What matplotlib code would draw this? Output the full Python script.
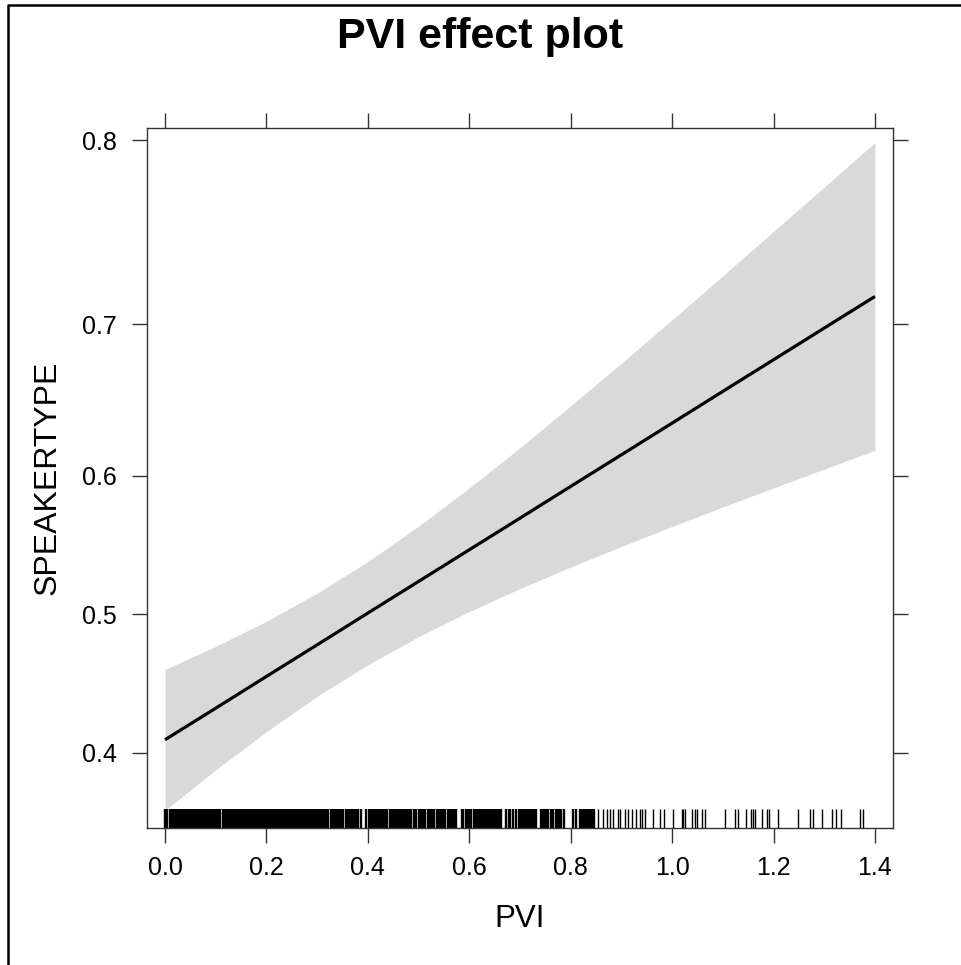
import numpy as np
import matplotlib
matplotlib.use('Agg')
import matplotlib.pyplot as plt
from matplotlib.lines import Line2D
from matplotlib.ticker import NullLocator
from matplotlib import rcParams

rcParams['font.family'] = 'sans-serif'
rcParams['font.sans-serif'] = ['Liberation Sans', 'DejaVu Sans']
rcParams['font.size'] = 18

## effect estimates (probability scale)
pvi = [0.0, 0.1, 0.2, 0.3, 0.4, 0.5, 0.6, 0.7, 0.8, 0.9, 1.0, 1.1, 1.2, 1.3, 1.4]
fit = [0.4093, 0.4318, 0.4547, 0.4777, 0.5009, 0.5240, 0.5470, 0.5698,
       0.5924, 0.6145, 0.6362, 0.6574, 0.6779, 0.6978, 0.7169]
upper = [0.4598, 0.4766, 0.4949, 0.5154, 0.5385, 0.5640, 0.5913, 0.6194,
         0.6478, 0.6758, 0.7029, 0.7290, 0.7539, 0.7771, 0.7989]
lower = [0.3606, 0.3882, 0.4150, 0.4403, 0.4632, 0.4836, 0.5020, 0.5188,
         0.5345, 0.5494, 0.5639, 0.5778, 0.5913, 0.6046, 0.6176]

## rug of observed PVI values (in thousandths)
rug_dense = [
    0, 3, 9, 12, 15, 18, 21, 24, 27, 30, 33, 36, 39, 42, 45, 48, 51, 54, 57,
    60, 63, 66, 69, 72, 75, 78, 81, 84, 87, 90, 93, 96, 99,
    102, 105, 108, 114, 117, 120, 123, 126, 129, 132, 135, 138, 141, 144, 147,
    150, 153, 156, 159, 162, 165, 168, 171, 174, 177, 180, 183, 186, 189, 192,
    195, 198,
    201, 204, 207, 210, 213, 216, 219, 222, 225, 228, 231, 234, 237, 240, 243,
    246, 249, 252, 255, 258, 261, 264, 267, 270, 273, 276, 279, 282, 285, 288,
    291, 294, 297,
    300, 303, 306, 309, 312, 315, 318, 321, 327, 330, 333, 336, 339, 342, 345,
    348, 351, 357, 360, 363, 366, 369, 372, 375, 378, 381, 387, 396,
    402, 405, 408, 411, 414, 417, 420, 423, 426, 429, 432, 435, 438, 444, 447,
    450, 453, 456, 459, 462, 465, 468, 471, 474, 477, 480, 483, 486, 492, 495,
    501, 504, 507, 510, 513, 519, 522, 525, 528, 531, 537, 540, 543, 546, 549,
    552, 558, 561, 564, 567, 570, 573, 585, 588, 594, 597,
    600, 603, 609, 612, 615, 618, 621, 624, 627, 630, 633, 636, 639, 642, 645,
    648, 651, 654, 657, 660, 663, 672, 678, 681, 687, 693, 699,
    702, 705, 708, 711, 714, 717, 720, 723, 726, 729, 732, 741, 744, 747, 750,
    753, 756, 762, 765, 771, 774, 777, 780, 786,
    804, 811, 818, 821, 824, 827, 830, 833, 836, 839, 842, 845,
]
rug_sparse = [
    854, 864, 872, 878, 883, 893, 897, 907, 913, 921, 929, 937, 941, 947,
    962, 976, 984, 1002, 1019, 1022, 1026, 1039, 1045, 1049, 1059, 1065,
    1104, 1124, 1129, 1146, 1156, 1160, 1163, 1177, 1187, 1192, 1209, 1249,
    1272, 1278, 1295, 1315, 1323, 1334, 1371, 1377,
]
rug_d = np.array(rug_dense) / 1000.0
rug_s = np.array(rug_sparse) / 1000.0

fig = plt.figure(figsize=(9.61, 9.65), dpi=100)
ax = fig.add_axes([147/961, 137/965, 746/961, 700/965])

ax.set_yscale('logit')
ax.fill_between(pvi, lower, upper, color='#d9d9d9', linewidth=0)
ax.plot(pvi, fit, color='black', lw=2.3, solid_capstyle='butt')
# rug: tightly packed values need a wider stroke to merge like the original
ax.vlines(rug_d, 0, 0.027, transform=ax.get_xaxis_transform(),
          color='black', lw=1.7)
ax.vlines(rug_s, 0, 0.027, transform=ax.get_xaxis_transform(),
          color='black', lw=1.0)

ax.set_xlim(-0.0355, 1.4356)
ax.set_ylim(0.3487, 0.8056)
ax.set_xticks([0.0, 0.2, 0.4, 0.6, 0.8, 1.0, 1.2, 1.4])
ax.set_xticklabels(['0.0', '0.2', '0.4', '0.6', '0.8', '1.0', '1.2', '1.4'])
ax.set_yticks([0.4, 0.5, 0.6, 0.7, 0.8])
ax.set_yticklabels(['0.4', '0.5', '0.6', '0.7', '0.8'])
ax.yaxis.set_minor_locator(NullLocator())
ax.xaxis.set_minor_locator(NullLocator())

for s in ax.spines.values():
    s.set_color('#333333')
    s.set_linewidth(1.0)
ax.tick_params(direction='out', length=10.5, width=1.0, color='#333333',
               top=True, right=True, labeltop=False, labelright=False)
ax.tick_params(axis='y', pad=11)
ax.tick_params(axis='x', pad=10)

ax.set_xlabel('PVI', fontsize=22.5, labelpad=17)
ax.set_ylabel('SPEAKERTYPE', fontsize=23, labelpad=14)
fig.text(0.5, 1 - 37/965, 'PVI effect plot', ha='center', va='center',
         fontsize=31, fontweight='bold')

# outer frame (cut at right and bottom)
fig.add_artist(Line2D([8/961, 8/961, 1.0], [0.0, 1 - 5/965, 1 - 5/965],
                      transform=fig.transFigure, color='black', lw=1.8))

plt.savefig('out.png', dpi=100)
